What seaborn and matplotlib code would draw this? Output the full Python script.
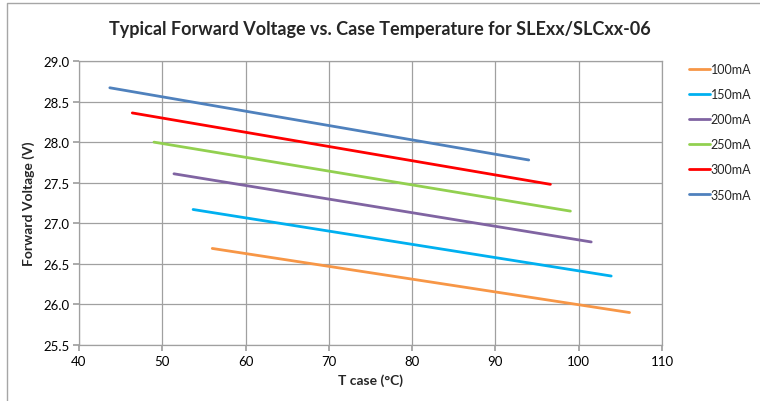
import pandas as pd
import matplotlib.pyplot as plt
import matplotlib.lines as mlines
import seaborn as sns

# Series (start and end of each straight line)
currents = ["100mA", "150mA", "200mA", "250mA", "300mA", "350mA"]
t_start = [56.0, 53.7, 51.4, 49.0, 46.4, 43.7]
t_end = [106.1, 103.9, 101.5, 99.0, 96.6, 94.0]
v_start = [26.69, 27.17, 27.61, 28.00, 28.36, 28.67]
v_end = [25.90, 26.35, 26.77, 27.15, 27.48, 27.78]
colors = ["#F79646", "#00B0F0", "#8064A2", "#92D050", "#FF0000", "#4F81BD"]

x_ticks = [40, 50, 60, 70, 80, 90, 100, 110]
y_ticks = [25.5, 26.0, 26.5, 27.0, 27.5, 28.0, 28.5, 29.0]

rows = []
for c, t0, t1, v0, v1 in zip(currents, t_start, t_end, v_start, v_end):
    rows.append({"current": c, "T": t0, "V": v0})
    rows.append({"current": c, "T": t1, "V": v1})
data = pd.DataFrame(rows)

sns.set_theme(style="white")
plt.rcParams["font.family"] = ["Lato", "DejaVu Sans"]

fig = plt.figure(figsize=(7.6, 4.02), dpi=100)
ax = fig.add_axes([79 / 760, 1 - 346 / 402, (662 - 79) / 760, (346 - 62) / 402])

sns.lineplot(data=data, x="T", y="V", hue="current", hue_order=currents,
             palette=dict(zip(currents, colors)), linewidth=2, ax=ax)

ax.set_xlim(40, 110)
ax.set_ylim(25.5, 29.0)
ax.set_xticks(x_ticks)
ax.set_yticks(y_ticks)
ax.set_yticklabels([f"{v:.1f}" for v in y_ticks])
ax.grid(True, color="#A0A0A0", linewidth=0.9)
for s in ax.spines.values():
    s.set_color("#A0A0A0")
    s.set_linewidth(0.9)
ax.tick_params(axis="both", labelsize=9.5, colors="#000000", length=4,
               color="#A0A0A0", direction="out", bottom=True, left=True, pad=3)

ax.set_xlabel("T case (°C)", fontsize=10, fontweight="bold", labelpad=5)
ax.set_ylabel("Forward Voltage (V)", fontsize=10, fontweight="bold", labelpad=6)
fig.suptitle("Typical Forward Voltage vs. Case Temperature for SLExx/SLCxx-06",
             x=0.5, y=1 - 30 / 402, va="center", fontsize=13, fontweight="bold")

leg = ax.legend(loc="upper left", bbox_to_anchor=(684 / 760, 1 - 59 / 402),
                bbox_transform=fig.transFigure, frameon=False, fontsize=9,
                handlelength=1.7, handletextpad=0.05, labelspacing=1.05,
                borderaxespad=0.0)

# chart-area border: only top and left edges are visible in the reference
fig.add_artist(mlines.Line2D([7 / 760, 7 / 760, 1.0], [0.0, 1 - 4 / 402, 1 - 4 / 402],
                             transform=fig.transFigure, color="#A6A6A6", linewidth=1))

fig.savefig("out.png", dpi=100)
